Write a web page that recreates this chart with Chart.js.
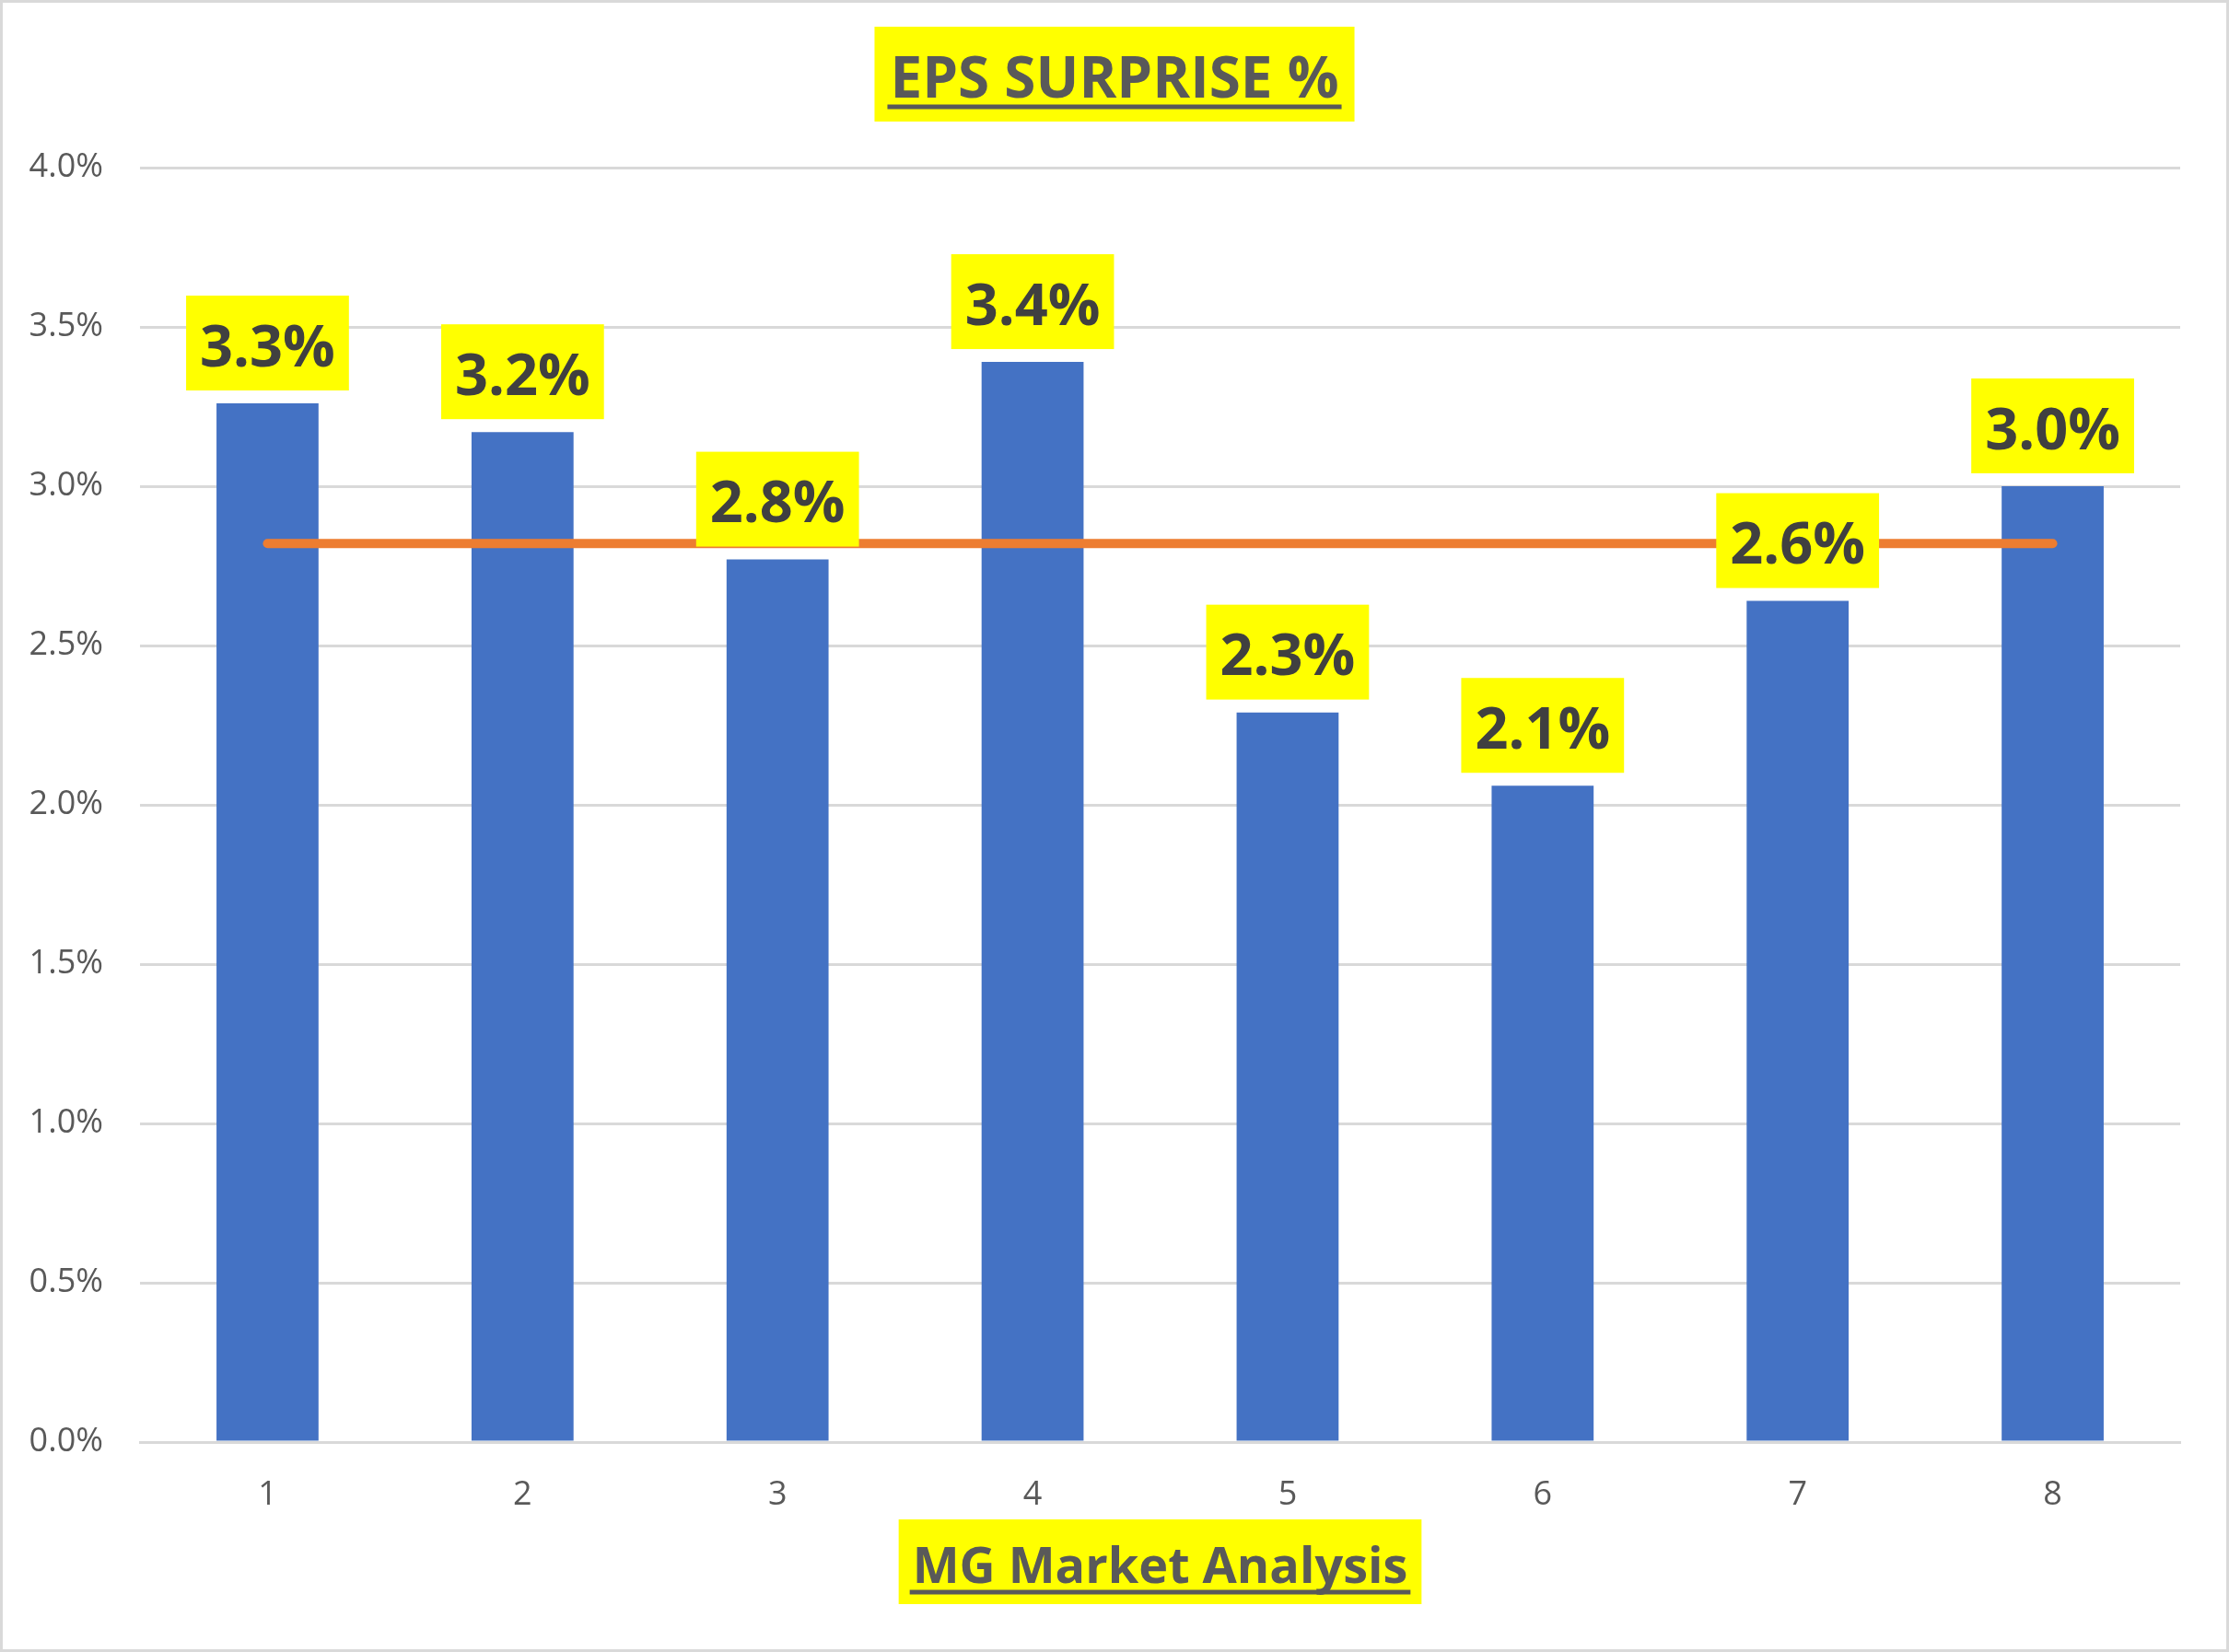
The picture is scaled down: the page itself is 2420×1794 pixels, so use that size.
<!DOCTYPE html>
<html>
<head>
<meta charset="utf-8">
<script src="https://cdn.jsdelivr.net/npm/chart.js@4.4.1/dist/chart.umd.min.js"></script>
<style>
  html, body { margin: 0; padding: 0; background: #fff; }
  #wrap { width: 2420px; height: 1794px; position: relative; }
</style>
</head>
<body>
<div id="wrap"><canvas id="epsChart"></canvas></div>
<script>
// quarters on the x axis
var quarters = ['1', '2', '3', '4', '5', '6', '7', '8'];
// EPS surprise in %
var epsSurprise = [3.26, 3.17, 2.77, 3.39, 2.29, 2.06, 2.64, 3.00];
// the orange average line
var avgLine = [2.82, 2.82, 2.82, 2.82, 2.82, 2.82, 2.82, 2.82];
// y axis range in %
var yMin = 0, yMax = 4, yStep = 0.5;

var chartTitle = 'EPS SURPRISE %';
var xTitle = 'MG Market Analysis';

function titleBox(ctx, text, cx, top, h, font, padX) {
  ctx.font = font;
  var m = ctx.measureText(text);
  var w = m.width + 2 * padX;
  ctx.fillStyle = '#ffff00';
  ctx.fillRect(cx - w / 2, top, w, h);
  var asc = m.actualBoundingBoxAscent;
  var base = top + h / 2 + 2 + asc / 2;
  ctx.fillStyle = '#595959';
  ctx.textAlign = 'center';
  ctx.textBaseline = 'alphabetic';
  ctx.fillText(text, cx, base);
  // underline
  ctx.fillRect(cx - m.width / 2 - 3, base + 8, m.width + 6, 5);
}

var boxesPlugin = {
  id: 'boxes',
  afterDatasetsDraw: function(chart) {
    var ctx = chart.ctx;
    var meta = chart.getDatasetMeta(1); // the bars
    ctx.save();
    ctx.font = 'bold 63px "Open Sans"';
    ctx.textAlign = 'center';
    ctx.textBaseline = 'alphabetic';
    meta.data.forEach(function(bar, i) {
      var txt = epsSurprise[i].toFixed(1) + '%';
      var m = ctx.measureText(txt);
      var w = m.width + 30, h = 103;
      var bottom = bar.y - 14;
      ctx.fillStyle = '#ffff00';
      ctx.fillRect(bar.x - w / 2, bottom - h, w, h);
      ctx.fillStyle = '#404040';
      ctx.fillText(txt, bar.x, bottom - h / 2 + 2 + m.actualBoundingBoxAscent / 2);
    });
    ctx.restore();
  },
  afterDraw: function(chart) {
    var ctx = chart.ctx;
    var area = chart.chartArea;
    ctx.save();
    titleBox(ctx, chartTitle, chart.width / 2, 29, 103, 'bold 62px "Open Sans"', 17);
    titleBox(ctx, xTitle, (area.left + area.right) / 2, 1650, 92, 'bold 54px "Open Sans"', 15);
    // frame round the chart
    ctx.strokeStyle = '#d9d9d9';
    ctx.lineWidth = 3;
    ctx.strokeRect(1.5, 1.5, chart.width - 3, chart.height - 3);
    ctx.restore();
  }
};

function makeChart() {
  new Chart(document.getElementById('epsChart'), {
    data: {
      labels: quarters,
      datasets: [{
        type: 'line',
        data: avgLine,
        borderColor: '#ed7d31',
        borderWidth: 10,
        borderCapStyle: 'round',
        pointRadius: 0,
        order: 0
      }, {
        type: 'bar',
        data: epsSurprise,
        backgroundColor: '#4472c4',
        barPercentage: 0.4,
        categoryPercentage: 1.0,
        order: 1
      }]
    },
    options: {
      responsive: true,
      maintainAspectRatio: false,
      animation: false,
      layout: { padding: { top: 182, left: 0, right: 53, bottom: 0 } },
      plugins: { legend: { display: false }, tooltip: { enabled: false } },
      scales: {
        x: {
          grid: { display: false },
          border: { color: '#d9d9d9', width: 3 },
          ticks: { color: '#595959', font: { family: 'Open Sans', size: 36 }, padding: 28 },
          afterFit: function(s) { s.height = 228; }
        },
        y: {
          min: yMin, max: yMax,
          grid: { color: '#d9d9d9', lineWidth: 3, drawTicks: false },
          border: { display: false },
          ticks: {
            stepSize: yStep,
            padding: 40,
            color: '#595959',
            font: { family: 'Open Sans', size: 36 },
            callback: function(v) { return v.toFixed(1) + '%'; }
          },
          afterFit: function(s) { s.width = 152; }
        }
      }
    },
    plugins: [boxesPlugin]
  });
}

Promise.all([
  document.fonts.load('36px "Open Sans"'),
  document.fonts.load('bold 62px "Open Sans"')
]).then(makeChart, makeChart);
</script>
</body>
</html>
